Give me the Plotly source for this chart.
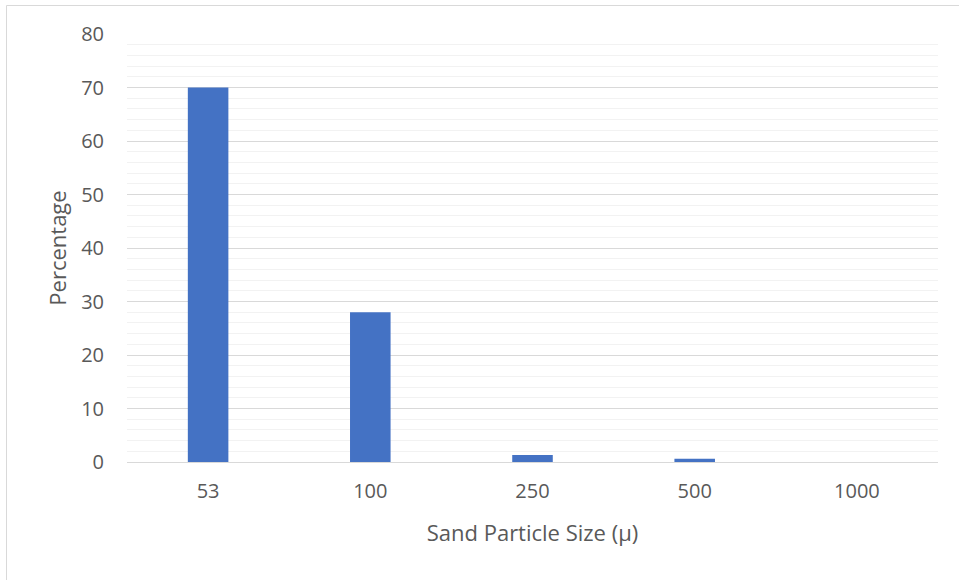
import plotly.graph_objects as go

# Particle size distribution of sand
sizes = ["53", "100", "250", "500", "1000"]
percentages = [70, 28, 1.3, 0.6, 0]

W, H = 959, 580
L, R, T, B = 127, 21, 34, 118
pw = W - L - R
ph = H - T - B

fig = go.Figure(
    go.Bar(
        x=sizes,
        y=percentages,
        marker=dict(color="#4472C4", line=dict(width=0)),
        width=0.25,
    )
)

font_family = "'Open Sans', sans-serif"

fig.update_layout(
    width=W,
    height=H,
    margin=dict(l=L, r=R, t=T, b=B),
    paper_bgcolor="white",
    plot_bgcolor="white",
    showlegend=False,
    font=dict(family=font_family, color="#595959", size=20),
    xaxis=dict(
        type="category",
        showgrid=False,
        showline=True,
        linecolor="#d9d9d9",
        linewidth=1,
        ticks="",
        tickfont=dict(size=20, color="#595959"),
        ticklabelstandoff=11,
        title=dict(text="Sand Particle Size (μ)", font=dict(size=22, color="#595959"), standoff=22),
    ),
    yaxis=dict(
        range=[0, 80],
        dtick=10,
        showgrid=True,
        gridcolor="#d9d9d9",
        gridwidth=1,
        zeroline=False,
        showline=False,
        ticks="",
        tickfont=dict(size=20, color="#595959"),
        ticklabelstandoff=22,
        minor=dict(dtick=2, showgrid=True, gridcolor="#f2f2f2", gridwidth=1),
        title=dict(text="Percentage", font=dict(size=22, color="#595959"), standoff=8),
    ),
    shapes=[
        dict(
            type="rect",
            xref="paper",
            yref="paper",
            x0=(6.5 - L) / pw,
            x1=(W + 5 - L) / pw,
            y0=-(H + 5 - T - ph) / ph,
            y1=(ph + T - 5.5) / ph,
            line=dict(color="#d9d9d9", width=1),
            fillcolor="rgba(0,0,0,0)",
            layer="below",
        )
    ],
)

fig.write_html("out.html")
